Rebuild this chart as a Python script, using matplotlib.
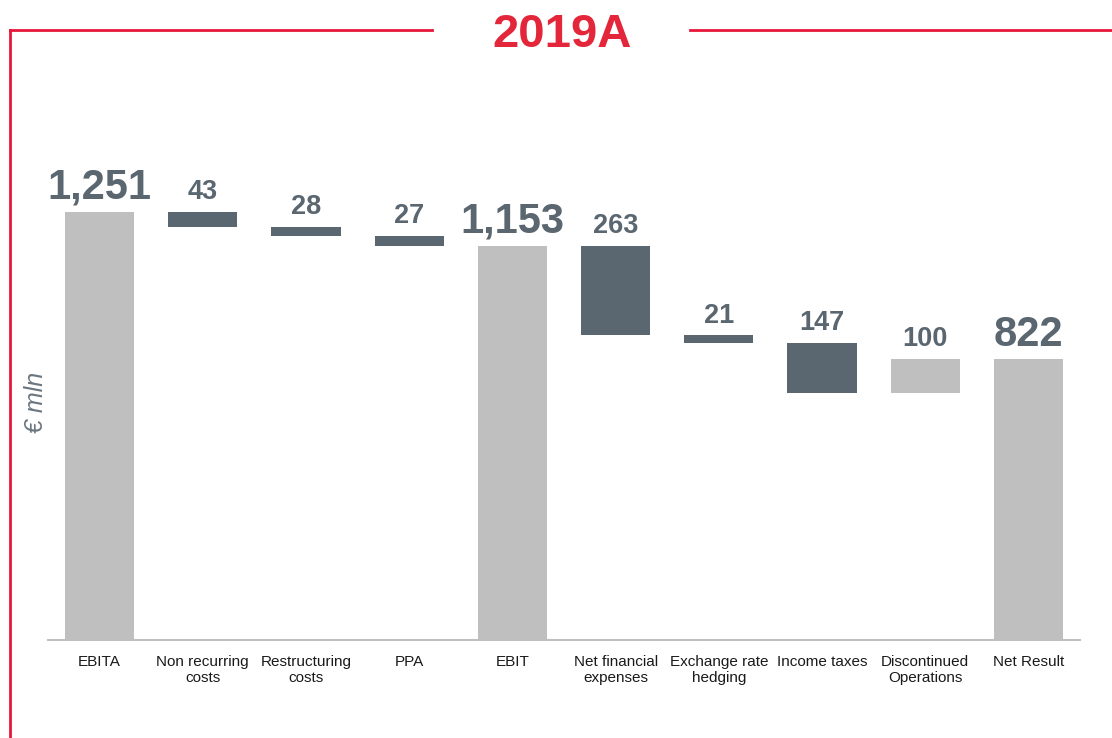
import matplotlib
matplotlib.use("Agg")
import matplotlib.pyplot as plt
from matplotlib.lines import Line2D

plt.rcParams['font.family'] = ['Liberation Sans', 'DejaVu Sans']

categories = ["EBITA", "Non recurring\ncosts", "Restructuring\ncosts", "PPA", "EBIT",
              "Net financial\nexpenses", "Exchange rate\nhedging", "Income taxes",
              "Discontinued\nOperations", "Net Result"]
# kind: 'total' = full bar from zero, 'delta' = change from running total
kinds = ["total", "delta", "delta", "delta", "total", "delta", "delta", "delta", "delta", "total"]
values = [1251, -43, -28, -27, 1153, -263, -21, -147, 100, 822]
labels = ["1,251", "43", "28", "27", "1,153", "263", "21", "147", "100", "822"]

LIGHT = "#bfbfbf"
DARK = "#5a6670"
RED = "#e3263a"

fig = plt.figure(figsize=(11.12, 7.38), dpi=100)
ax = fig.add_axes([48/1112, 1-640/738, (1080-48)/1112, (640-161)/738])

running = 0
for i, (k, v, lab) in enumerate(zip(kinds, values, labels)):
    if k == "total":
        bottom, height, color = 0, v, LIGHT
        running = v
        top = v
        fs = 30
        off = 3
    else:
        if v < 0:
            bottom, height, color = running + v, -v, DARK
        else:
            bottom, height, color = running, v, LIGHT
        running += v
        top = bottom + height
        fs = 19.5
        off = 5
    ax.bar(i, height, bottom=bottom, width=0.67, color=color, linewidth=0)
    ax.annotate(lab, (i, top), xytext=(0, off), textcoords="offset points",
                ha="center", va="bottom", fontsize=fs, fontweight="bold", color=DARK)

ax.set_xlim(-0.5, 9.5)
ax.set_ylim(0, 1400)
ax.set_xticks(range(len(categories)))
ax.set_xticklabels(categories, fontsize=11, color="#1a1a1a", linespacing=1.15)
ax.tick_params(axis="x", length=0, pad=11)
ax.set_yticks([])
for s in ["top", "right", "left"]:
    ax.spines[s].set_visible(False)
ax.spines["bottom"].set_color("#bfbfbf")
ax.spines["bottom"].set_linewidth(1.5)

# frame lines
W, H = 1112, 738
def px(x, y):
    return x / W, 1 - y / H
for seg in [((10, 30), (432, 30)), ((690, 30), (1112, 30)), ((10, 30), (10, 738))]:
    (x0, y0), (x1, y1) = seg
    a, b = px(x0, y0)
    c, d = px(x1, y1)
    fig.add_artist(Line2D([a, c], [b, d], color="#e8173a", linewidth=2, transform=fig.transFigure))

fig.text(562/W, 1 - 47/H, "2019A", ha="center", va="baseline", fontsize=34,
         fontweight="bold", color=RED)
fig.text(36/W, 1 - 402/H, "€ mln", rotation=90, ha="center", va="center",
         fontsize=18, style="italic", color="#6b7680")

fig.savefig("out.png", dpi=100)
